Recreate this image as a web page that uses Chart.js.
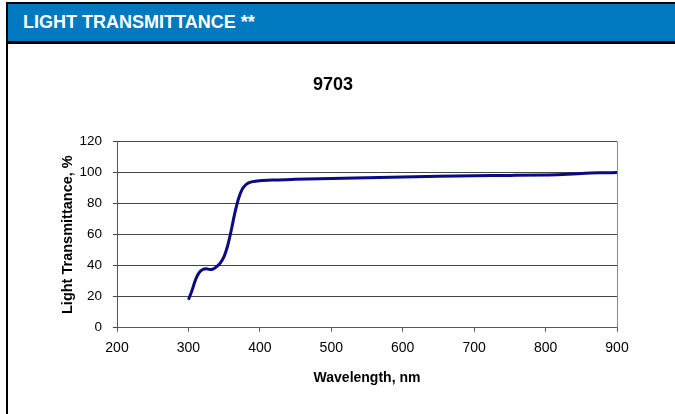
<!DOCTYPE html>
<html lang="en">
<head>
  <meta charset="UTF-8">
  <title>Light Transmittance</title>
  <script src="https://cdn.jsdelivr.net/npm/chart.js"></script>
</head>
<style>
  body {
    margin: 0;
    width: 675px;
    height: 414px;
    overflow: hidden;
    background: #fff;
    font-family: "Liberation Sans", Arial, sans-serif;
  }
  #frame {
    position: absolute;
    left: 6px;
    top: 2px;
    width: 700px;
    height: 420px;
    border-left: 2px solid #000;
    border-top: 2px solid #000;
  }
  #header {
    height: 37px;
    background-color: #0079c1;
    border-bottom: 3px solid #000;
    color: #fff;
    font-weight: bold;
    font-size: 18px;
    line-height: 37px;
    padding-left: 15px;
  }
  #chartBox {
    position: absolute;
    left: 0;
    top: 44px;
    width: 665px;
    height: 370px;
  }
</style>
<body>
  <div id="frame">
    <div id="header">LIGHT TRANSMITTANCE **</div>
  </div>
  <div id="chartBox">
    <canvas id="transChart" width="665" height="370"></canvas>
  </div>
  <script>
    // Datos
    const wavelength = [300, 305, 310, 315, 320, 325, 330, 335, 340, 345, 350, 355, 360, 365, 370, 375, 380, 385, 390, 400, 420, 450, 500, 550, 600, 650, 700, 750, 800, 825, 850, 875, 900];
    const transmittance = [18, 24, 31, 35.5, 37.5, 38, 37.5, 38, 39.5, 42, 46, 53, 63, 74, 83, 89, 92, 93.5, 94.2, 94.8, 95.3, 95.7, 96.2, 96.7, 97.2, 97.7, 98, 98.2, 98.5, 98.8, 99.5, 99.9, 100];
    const xTicks = [200, 300, 400, 500, 600, 700, 800, 900];
    const yTicks = [0, 20, 40, 60, 80, 100, 120];

    // Borde derecho del área de trazado
    const rightBorder = {
      id: 'rightBorder',
      afterDraw(chart) {
        const a = chart.chartArea;
        const ctx = chart.ctx;
        ctx.save();
        ctx.strokeStyle = '#888';
        ctx.lineWidth = 1;
        ctx.beginPath();
        ctx.moveTo(Math.round(a.right) + 0.5, a.top);
        ctx.lineTo(Math.round(a.right) + 0.5, a.bottom);
        ctx.stroke();
        ctx.restore();
      }
    };

    const ctx = document.getElementById('transChart').getContext('2d');
    new Chart(ctx, {
      type: 'line',
      data: {
        datasets: [{
          label: '9703',
          data: wavelength.map((w, i) => ({ x: w, y: transmittance[i] })),
          borderColor: '#0a0a82',
          borderWidth: 3,
          pointRadius: 0,
          cubicInterpolationMode: 'monotone',
          fill: false
        }]
      },
      options: {
        responsive: false,
        animation: false,
        layout: { padding: { left: 49, right: 48, top: 0, bottom: 0 } },
        plugins: {
          legend: { display: false },
          tooltip: { enabled: false },
          title: {
            display: true,
            text: '9703',
            color: '#000',
            font: { family: '"Liberation Sans", Arial', size: 18, weight: 'bold' },
            padding: { top: 30, bottom: 46 }
          }
        },
        scales: {
          x: {
            type: 'linear',
            min: 200,
            max: 900,
            afterBuildTicks: s => { s.ticks = xTicks.map(v => ({ value: v })); },
            afterFit: s => { s.height = 86.3; },
            grid: { drawOnChartArea: false, drawTicks: true, tickLength: 4, color: '#555' },
            border: { color: '#555', width: 1 },
            ticks: { color: '#000', padding: 8, maxRotation: 0, font: { family: '"Liberation Sans", Arial', size: 14 } },
            title: {
              display: true,
              text: 'Wavelength, nm',
              color: '#000',
              font: { family: '"Liberation Sans", Arial', size: 14, weight: 'bold' },
              padding: { top: 0, bottom: 27.6 }
            }
          },
          y: {
            min: 0,
            max: 120,
            afterBuildTicks: s => { s.ticks = yTicks.map(v => ({ value: v })); },
            afterFit: s => { s.width = 68; },
            grid: { color: '#444', tickLength: 4 },
            border: { color: '#555', width: 1 },
            ticks: { color: '#000', padding: 11, font: { family: '"Liberation Sans", Arial', size: 13.5 } },
            title: {
              display: true,
              text: 'Light Transmittance, %',
              color: '#000',
              font: { family: '"Liberation Sans", Arial', size: 14.5, weight: 'bold' },
              padding: { top: 10.4, bottom: 0 }
            }
          }
        }
      },
      plugins: [rightBorder]
    });
  </script>
</body>
</html>
